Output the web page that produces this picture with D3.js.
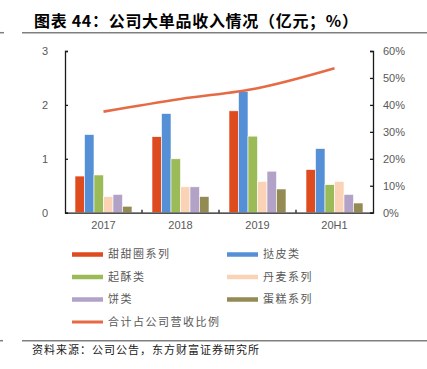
<!DOCTYPE html>
<html><head><meta charset="utf-8">
<script src="https://cdn.jsdelivr.net/npm/d3@7"></script>
<style>body{margin:0;background:#fff;} svg{display:block;}</style>
</head><body>
<svg id="c" width="427" height="369"></svg>
<script>
const categories = ["2017", "2018", "2019", "20H1"];
const seriesNames = ["甜甜圈系列", "挞皮类", "起酥类", "丹麦系列", "饼类", "蛋糕系列"];
const seriesColors = ["#DE4B1E", "#5590D6", "#9BBB59", "#FAD3B6", "#B3A2C8", "#948A54"];
const donut = [0.68, 1.41, 1.89, 0.80];
const tart = [1.45, 1.84, 2.25, 1.19];
const puff = [0.70, 1.00, 1.42, 0.52];
const danish = [0.30, 0.48, 0.58, 0.58];
const cookie = [0.34, 0.48, 0.77, 0.34];
const cake = [0.12, 0.30, 0.44, 0.18];
const shareName = "合计占公司营收比例";
const share = [0.375, 0.422, 0.462, 0.536];
const leftTicks = [0, 1, 2, 3];
const rightTicks = [0, 0.1, 0.2, 0.3, 0.4, 0.5, 0.6];
const seriesValues = [donut, tart, puff, danish, cookie, cake];

const svg = d3.select("#c");
const pL = 65, pR = 373, pT = 51, pB = 212.7;

// Title
svg.append("text").attr("x", 34).attr("y", 27)
  .attr("font-family", "'Noto Sans CJK SC', sans-serif").attr("font-weight", "bold")
  .attr("font-size", 16).attr("letter-spacing", 0.7).attr("fill", "#000").text("图表 44：公司大单品收入情况（亿元；%）");
svg.append("line").attr("x1", 22).attr("x2", 427).attr("y1", 32.7).attr("y2", 32.7)
  .attr("stroke", "#7f7f7f").attr("stroke-width", 1.5);
svg.append("line").attr("x1", 0).attr("x2", 4).attr("y1", 32.7).attr("y2", 32.7)
  .attr("stroke", "#7f7f7f").attr("stroke-width", 1.5);

const x = d3.scaleBand().domain(categories).range([pL, pR]);
const xs = d3.scaleBand().domain(seriesNames).range([0, 57]);
const y = d3.scaleLinear().domain([0, 3]).range([pB, pT]);
const y2 = d3.scaleLinear().domain([0, 0.6]).range([pB, pT]);

// Bars
seriesNames.forEach((s, i) => {
  svg.append("g").selectAll("rect").data(seriesValues[i]).join("rect")
    .attr("x", (d, j) => x(categories[j]) + x.bandwidth() / 2 - 28.5 + xs(s))
    .attr("width", xs.bandwidth())
    .attr("y", d => y(d)).attr("height", d => pB - y(d))
    .attr("fill", seriesColors[i]).attr("stroke", "#fff").attr("stroke-width", 0.6);
});

// Axes
const axStyle = g => {
  g.selectAll("path.domain").attr("stroke", "#1a1a1a").attr("stroke-width", 1.3);
  g.selectAll(".tick line").attr("stroke", "#1a1a1a").attr("stroke-width", 1.3);
  g.selectAll("text").attr("fill", "#595959").attr("font-family", "'Liberation Sans', Arial, sans-serif").attr("font-size", 11);
};
svg.append("g").attr("transform", `translate(${pL},0)`)
  .call(d3.axisLeft(y).tickValues(leftTicks).tickFormat(d3.format("d")).tickSize(-3).tickPadding(17).tickSizeOuter(-3))
  .call(axStyle);
svg.append("g").attr("transform", `translate(${pR},0)`)
  .call(d3.axisRight(y2).tickValues(rightTicks).tickFormat(d3.format(".0%")).tickSize(-3).tickPadding(10).tickSizeOuter(-3))
  .call(axStyle);
const xg = svg.append("g").attr("transform", `translate(0,${pB})`)
  .call(d3.axisBottom(x).tickSize(0).tickPadding(9).tickSizeOuter(0))
  .call(axStyle);
// category separator ticks (pointing up)
svg.append("g").selectAll("line").data(categories.slice(1)).join("line")
  .attr("x1", d => x(d)).attr("x2", d => x(d)).attr("y1", pB).attr("y2", pB - 3)
  .attr("stroke", "#1a1a1a").attr("stroke-width", 1.3);

// Line
const line = d3.line().x((d, i) => x(categories[i]) + x.bandwidth() / 2).y(d => y2(d)).curve(d3.curveCatmullRom.alpha(0.5));
svg.append("path").datum(share).attr("d", line).attr("fill", "none")
  .attr("stroke", "#E66B45").attr("stroke-width", 2.6).attr("stroke-linecap", "butt");

// Legend
const lf = "'Noto Sans CJK SC', sans-serif";
const legendItems = seriesNames.map((n, i) => ({ n, c: seriesColors[i], h: 4.5 }));
legendItems.push({ n: shareName, c: "#E66B45", h: 3 });
legendItems.forEach((it, i) => {
  const col = i < 6 ? i % 2 : 0, row = Math.floor(i / 2);
  const lx = col === 0 ? 72 : 227, ly = 254.5 + row * 22.5;
  svg.append("rect").attr("x", lx).attr("y", ly - it.h / 2).attr("width", 31).attr("height", it.h).attr("fill", it.c);
  svg.append("text").attr("x", lx + 36).attr("y", ly).attr("dy", "0.36em")
    .attr("font-family", lf).attr("font-size", 11).attr("letter-spacing", 1.5)
    .attr("fill", "#595959").text(it.n);
});

// Source
svg.append("line").attr("x1", 22).attr("x2", 427).attr("y1", 340.7).attr("y2", 340.7)
  .attr("stroke", "#7f7f7f").attr("stroke-width", 1.5);
svg.append("line").attr("x1", 0).attr("x2", 3).attr("y1", 340.7).attr("y2", 340.7)
  .attr("stroke", "#7f7f7f").attr("stroke-width", 1.5);
svg.append("text").attr("x", 32).attr("y", 350).attr("dy", "0.36em")
  .attr("font-family", lf).attr("font-size", 11).attr("letter-spacing", 1)
  .attr("fill", "#1a1a1a").text("资料来源：公司公告，东方财富证券研究所");
</script>
</body></html>
